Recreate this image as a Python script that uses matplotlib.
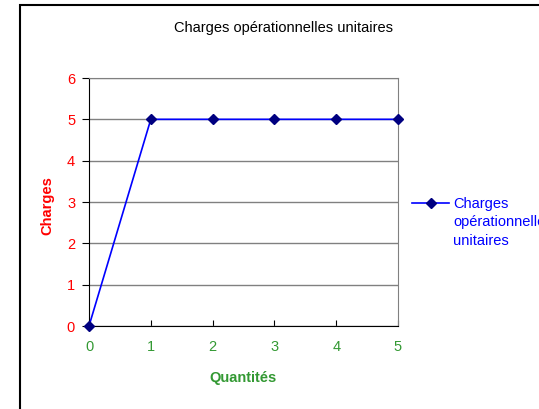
import matplotlib.pyplot as plt
from matplotlib.patches import Rectangle
from matplotlib.lines import Line2D

plt.rcParams['font.family'] = ['Liberation Sans', 'DejaVu Sans']

quantites = [0, 1, 2, 3, 4, 5]
charges = [0, 5, 5, 5, 5, 5]
serie_label = 'Charges\nopérationnelles\nunitaires'

W, H = 539, 409
fs = 10.5
fig = plt.figure(figsize=(W / 100, H / 100), dpi=100)
ax = fig.add_axes([89 / W, 1 - 326 / H, 309 / W, 248 / H])

# chart border (goes past the image on right and bottom)
fig.add_artist(Rectangle((20 / W, -0.2), 1.2, 1 - 5 / H + 0.2,
                         transform=fig.transFigure, fill=False,
                         ec='black', lw=1.5))

ax.plot(quantites, charges, color='#0000ff', lw=1.2, marker='D',
        markersize=5, mfc='#000080', mec='#000080', clip_on=False, zorder=5)

ax.set_xlim(0, 5)
ax.set_ylim(0, 6)
ax.set_xticks(range(0, 6))
ax.set_yticks(range(0, 7))
ax.yaxis.grid(True, color='#808080', lw=1)
ax.set_axisbelow(True)

for s in ['top', 'right']:
    ax.spines[s].set_color('#808080')
for s in ['left', 'bottom']:
    ax.spines[s].set_color('black')

ax.tick_params(axis='x', direction='in', length=4, pad=10,
               labelcolor='#339933', labelsize=fs)
ax.tick_params(axis='y', direction='out', length=5, pad=5,
               labelcolor='#ff0000', labelsize=fs)

ax.set_xlabel('Quantités', color='#339933', fontweight='bold',
              fontsize=fs, va='center')
ax.xaxis.set_label_coords(0.5, (326 - 378) / 248)
ax.set_ylabel('Charges', color='#ff0000', fontweight='bold',
              fontsize=fs, va='center')
ax.yaxis.set_label_coords((47 - 89) / 309, (326 - 206) / 248)

fig.text(283 / W, 1 - 28 / H, 'Charges opérationnelles unitaires',
         ha='center', va='center', fontsize=fs, color='black')

# legend
fig.add_artist(Line2D([412 / W, 449 / W], [1 - 203 / H, 1 - 203 / H],
                      transform=fig.transFigure, color='#0000ff', lw=1.2))
fig.add_artist(Line2D([430.5 / W], [1 - 203 / H], transform=fig.transFigure,
                      marker='D', markersize=5, mfc='#000080', mec='#000080'))
fig.text(453 / W, 1 - 197 / H, serie_label, ha='left', va='top',
         fontsize=fs, color='#0000ff', linespacing=1.4)

fig.savefig('out.png', dpi=100)
